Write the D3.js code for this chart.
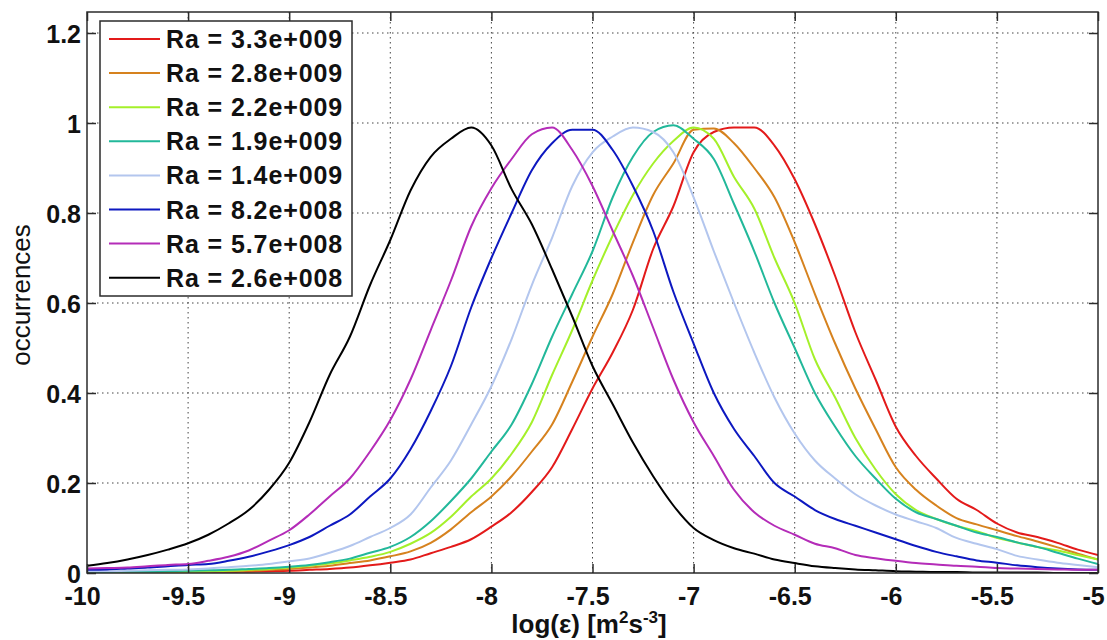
<!DOCTYPE html>
<html>
<head>
<meta charset="utf-8">
<script src="https://cdn.jsdelivr.net/npm/d3@7/dist/d3.min.js"></script>
<style>
  body { margin: 0; background: #fff; }
  svg { display: block; }
  text { font-family: 'Liberation Sans', Arial, sans-serif; fill: #111; }
</style>
</head>
<body>
<div class="chart"></div>
<script>
// log(eps) sample positions, step 0.1 from -10 to -5
const xs = d3.range(51).map(i => -10 + i * 0.1)

const labels = ['Ra = 3.3e+009', 'Ra = 2.8e+009', 'Ra = 2.2e+009', 'Ra = 1.9e+009',
    'Ra = 1.4e+009', 'Ra = 8.2e+008', 'Ra = 5.7e+008', 'Ra = 2.6e+008']
const colours = ['#e31a1a', '#d6821e', '#a4f02a', '#22b89a', '#b3c6ee', '#0d18c0', '#b42cb8', '#000000']

const xTicks = [-10, -9.5, -9, -8.5, -8, -7.5, -7, -6.5, -6, -5.5, -5]
const yTicks = [0, 0.2, 0.4, 0.6, 0.8, 1, 1.2]

// values, one per xs entry
const ra33e9 = [.001, .001, .001, .001, .001, .001, .002, .002, .003, .004,
    .005, .007, .009, .012, .017, .023, .03, .044, .058, .075,
    .103, .135, .18, .235, .32, .41, .49, .585, .72, .815,
    .935, .98, .99, .99, .95, .875, .775, .66, .535, .43,
    .325, .26, .21, .165, .14, .11, .09, .08, .067, .052, .04]
const ra28e9 = [.001, .001, .001, .002, .002, .002, .003, .004, .005, .007,
    .009, .012, .016, .022, .028, .037, .048, .067, .097, .135,
    .17, .215, .27, .33, .425, .525, .62, .735, .84, .91,
    .985, .988, .955, .90, .835, .735, .62, .51, .41, .32,
    .235, .185, .15, .122, .108, .095, .082, .07, .057, .043, .03]
const ra22e9 = [.001, .001, .002, .002, .003, .003, .004, .005, .007, .009,
    .012, .016, .021, .028, .036, .047, .065, .089, .125, .17,
    .21, .265, .335, .44, .54, .65, .75, .84, .91, .96,
    .99, .965, .88, .81, .70, .60, .475, .39, .30, .23,
    .175, .14, .12, .105, .093, .078, .068, .058, .05, .04, .03]
const ra19e9 = [.002, .002, .003, .003, .004, .005, .006, .007, .009, .011,
    .014, .018, .024, .032, .045, .058, .08, .115, .16, .21,
    .27, .33, .42, .525, .62, .715, .835, .925, .98, .995,
    .965, .92, .82, .715, .60, .50, .40, .325, .26, .21,
    .165, .135, .12, .105, .09, .08, .068, .058, .045, .032, .02]
const ra14e9 = [.004, .004, .005, .006, .007, .008, .01, .013, .016, .02,
    .026, .032, .045, .06, .08, .10, .13, .19, .25, .33,
    .415, .52, .64, .745, .86, .935, .97, .99, .98, .935,
    .835, .715, .60, .49, .39, .31, .25, .21, .175, .15,
    .13, .115, .10, .078, .065, .053, .038, .03, .023, .018, .013]
const ra82e8 = [.007, .008, .01, .012, .015, .018, .02, .027, .036, .048,
    .062, .08, .105, .13, .17, .21, .275, .36, .46, .59,
    .70, .80, .895, .955, .985, .985, .94, .86, .76, .625,
    .51, .40, .32, .26, .20, .17, .14, .12, .105, .09,
    .075, .06, .047, .037, .028, .023, .017, .013, .01, .008, .007]
const ra57e8 = [.01, .011, .012, .015, .018, .02, .027, .036, .05, .072,
    .095, .13, .17, .21, .27, .34, .43, .54, .65, .77,
    .855, .92, .975, .99, .94, .86, .76, .66, .545, .43,
    .335, .26, .185, .135, .105, .085, .065, .055, .04, .033,
    .027, .022, .019, .016, .014, .011, .01, .009, .008, .007, .007]
const ra26e8 = [.016, .022, .03, .04, .052, .066, .085, .11, .14, .185,
    .245, .335, .44, .525, .64, .74, .85, .925, .965, .99,
    .95, .853, .775, .675, .57, .46, .375, .29, .215, .15,
    .10, .073, .055, .043, .03, .022, .015, .011, .008, .006,
    .004, .003, .002, .002, .001, .001, .001, .001, 0, 0, 0]

const series = [ra33e9, ra28e9, ra22e9, ra19e9, ra14e9, ra82e8, ra57e8, ra26e8]

const fullWidth = 1107, fullHeight = 640
const margin = { top: 12, right: 9, bottom: 67, left: 87 }
const width = fullWidth - margin.left - margin.right
const height = fullHeight - margin.top - margin.bottom
const axisColour = '#2b2b2b'

const svg = d3.select('.chart').append('svg')
    .attr('width', fullWidth)
    .attr('height', fullHeight)

const g = svg.append('g')
    .attr('transform', `translate(${margin.left}, ${margin.top})`)

const xScale = d3.scaleLinear().domain([-10, -5]).range([0, width])
const yScale = d3.scaleLinear().domain([0, 1.2467]).range([height, 0])

// dotted grid
g.append('g').selectAll('line')
    .data(xTicks.slice(1, -1))
    .enter().append('line')
    .attr('x1', d => xScale(d)).attr('x2', d => xScale(d))
    .attr('y1', 0).attr('y2', height)
    .attr('stroke', '#444').attr('stroke-width', 1)
    .attr('stroke-dasharray', '1.5,3.5')
g.append('g').selectAll('line')
    .data(yTicks.slice(1))
    .enter().append('line')
    .attr('x1', 0).attr('x2', width)
    .attr('y1', d => yScale(d)).attr('y2', d => yScale(d))
    .attr('stroke', '#444').attr('stroke-width', 1)
    .attr('stroke-dasharray', '1.5,3.5')

// curves
g.append('clipPath').attr('id', 'plot-clip')
    .append('rect').attr('width', width).attr('height', height)

const line = d3.line()
    .x((d, i) => xScale(xs[i]))
    .y(d => yScale(d))
    .curve(d3.curveMonotoneX)

g.append('g').attr('clip-path', 'url(#plot-clip)')
    .selectAll('path')
    .data(series)
    .enter().append('path')
    .attr('d', line)
    .attr('fill', 'none')
    .attr('stroke', (d, i) => colours[i])
    .attr('stroke-width', 2)
    .attr('stroke-linejoin', 'round')

// axes, ticks inside on all four sides
const tickLen = 9
const xAxis = d3.axisBottom(xScale).tickValues(xTicks).tickSize(-tickLen).tickPadding(14)
    .tickFormat(d => d3.format('')(d).replace('\u2212', '-'))
const yAxis = d3.axisLeft(yScale).tickValues(yTicks).tickSize(-tickLen).tickPadding(6)
    .tickFormat(d => d3.format('')(d))

const gX = g.append('g').attr('transform', `translate(0, ${height})`).call(xAxis)
const gY = g.append('g').call(yAxis)
g.append('g').call(d3.axisTop(xScale).tickValues(xTicks).tickSize(-tickLen).tickFormat(''))
g.append('g').attr('transform', `translate(${width}, 0)`)
    .call(d3.axisRight(yScale).tickValues(yTicks).tickSize(-tickLen).tickFormat(''))

g.selectAll('.domain').remove()
g.selectAll('.tick line').attr('stroke', axisColour).attr('stroke-width', 1.5)
gX.selectAll('text').style('font-size', '25px').style('font-weight', 'bold')
    .attr('dy', '0.71em').attr('x', -5)
gY.selectAll('text').style('font-size', '25px').style('font-weight', 'bold')
    .attr('dy', '0.36em')

g.append('rect')
    .attr('width', width).attr('height', height)
    .attr('fill', 'none').attr('stroke', axisColour).attr('stroke-width', 1.5)

// axis labels
const xLabel = svg.append('text')
    .attr('x', 589).attr('y', 633)
    .attr('text-anchor', 'middle')
    .style('font-size', '26px').style('font-weight', 'bold')
xLabel.append('tspan').text('log(\u03b5) [m')
xLabel.append('tspan').attr('dy', -10).style('font-size', '17px').text('2')
xLabel.append('tspan').attr('dy', 10).text('s')
xLabel.append('tspan').attr('dy', -10).style('font-size', '17px').text('-3')
xLabel.append('tspan').attr('dy', 10).text(']')

svg.append('text')
    .attr('transform', 'translate(30, 295) rotate(-90)')
    .attr('text-anchor', 'middle')
    .style('font-size', '26px')
    .text('occurrences')

// legend
const legend = svg.append('g').attr('transform', 'translate(100, 21)')
legend.append('rect')
    .attr('width', 252).attr('height', 275)
    .attr('fill', '#fff').attr('stroke', axisColour).attr('stroke-width', 1.5)

const rows = legend.selectAll('.legend-row')
    .data(labels)
    .enter().append('g')
    .attr('class', 'legend-row')
    .attr('transform', (d, i) => `translate(0, ${18 + i * 34.1})`)
rows.append('line')
    .attr('x1', 9).attr('x2', 60)
    .attr('stroke', (d, i) => colours[i]).attr('stroke-width', 2)
rows.append('text')
    .attr('x', 66).attr('dy', '0.36em')
    .style('font-size', '25px').style('font-weight', 'bold')
    .style('letter-spacing', '0.9px')
    .text(d => d)
</script>
</body>
</html>
